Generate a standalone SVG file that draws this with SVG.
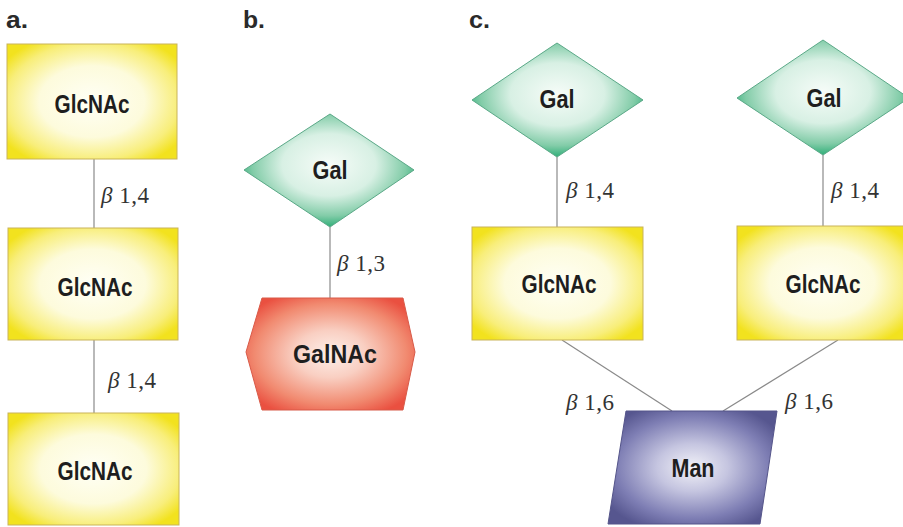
<svg xmlns="http://www.w3.org/2000/svg" width="903" height="527" viewBox="0 0 903 527">
  <style>
    .panel { font-family: "Liberation Sans", Arial, sans-serif; font-weight: bold; font-size: 24px; fill: #2a2a2a; }
    .name { font-family: "Liberation Sans", Arial, sans-serif; font-weight: bold; font-size: 25px; fill: #1e1e1e; text-anchor: middle; }
    .bond { font-family: "Liberation Serif", "Times New Roman", serif; font-size: 23px; fill: #333; letter-spacing: 0.5px; }
    .bond .g { font-style: italic; }
    .link { stroke: #8a8a8a; stroke-width: 1.2; fill: none; }
    .glc { fill: url(#yellow); stroke: #c9b45a; stroke-width: 1; }
    .gal { fill: url(#green); stroke: #5aa887; stroke-width: 1; }
    .galnac { fill: url(#red); stroke: #d85a48; stroke-width: 1; }
    .man { fill: url(#blue); stroke: #55558a; stroke-width: 1; }
  </style>
  <defs>
    <radialGradient id="yellow" cx="0.5" cy="0.5" r="0.62">
      <stop offset="0" stop-color="#fffff6"/>
      <stop offset="0.5" stop-color="#fdfbdc"/>
      <stop offset="0.82" stop-color="#f8ee7a"/>
      <stop offset="1" stop-color="#f2e21e"/>
    </radialGradient>
    <radialGradient id="green" cx="0.5" cy="0.45" r="0.55">
      <stop offset="0" stop-color="#f6fcf8"/>
      <stop offset="0.5" stop-color="#d8f0e4"/>
      <stop offset="0.82" stop-color="#82cca8"/>
      <stop offset="1" stop-color="#2fae78"/>
    </radialGradient>
    <radialGradient id="red" cx="0.5" cy="0.5" r="0.6">
      <stop offset="0" stop-color="#fdf0ea"/>
      <stop offset="0.35" stop-color="#f9cfc2"/>
      <stop offset="0.75" stop-color="#f18a70"/>
      <stop offset="1" stop-color="#ea5040"/>
    </radialGradient>
    <radialGradient id="blue" cx="0.5" cy="0.5" r="0.6">
      <stop offset="0" stop-color="#f2f2f8"/>
      <stop offset="0.35" stop-color="#c5c5e0"/>
      <stop offset="0.75" stop-color="#7e7eb4"/>
      <stop offset="1" stop-color="#56568f"/>
    </radialGradient>
  </defs>

  <rect width="903" height="527" fill="#ffffff"/>

  <!-- panel letters -->
  <text class="panel" x="6" y="28" textLength="22" lengthAdjust="spacingAndGlyphs">a.</text>
  <text class="panel" x="243" y="28" textLength="22" lengthAdjust="spacingAndGlyphs">b.</text>
  <text class="panel" x="469" y="28" textLength="21" lengthAdjust="spacingAndGlyphs">c.</text>

  <!-- glycosidic bonds -->
  <g id="connectors">
    <line class="link" x1="94" y1="159" x2="94" y2="228"/>
    <line class="link" x1="94" y1="340" x2="94" y2="413"/>
    <line class="link" x1="330" y1="227" x2="330" y2="298"/>
    <line class="link" x1="557" y1="157" x2="557" y2="227"/>
    <line class="link" x1="823" y1="155" x2="823" y2="226"/>
    <line class="link" x1="562" y1="340" x2="672" y2="411"/>
    <line class="link" x1="838" y1="340" x2="723" y2="411"/>
    <text class="bond" x="101" y="203"><tspan class="g">β</tspan> 1,4</text>
    <text class="bond" x="108" y="388"><tspan class="g">β</tspan> 1,4</text>
    <text class="bond" x="337" y="271"><tspan class="g">β</tspan> 1,3</text>
    <text class="bond" x="566" y="198"><tspan class="g">β</tspan> 1,4</text>
    <text class="bond" x="831" y="198"><tspan class="g">β</tspan> 1,4</text>
    <text class="bond" x="566" y="410"><tspan class="g">β</tspan> 1,6</text>
    <text class="bond" x="785" y="409"><tspan class="g">β</tspan> 1,6</text>
  </g>

  <!-- a. chitotriose -->
  <g id="a-glcnac-1">
    <rect class="glc" x="7" y="44" width="170" height="115"/>
    <text class="name" x="92" y="113" textLength="75" lengthAdjust="spacingAndGlyphs">GlcNAc</text>
  </g>
  <g id="a-glcnac-2">
    <rect class="glc" x="8" y="228" width="170" height="112"/>
    <text class="name" x="95" y="296" textLength="75" lengthAdjust="spacingAndGlyphs">GlcNAc</text>
  </g>
  <g id="a-glcnac-3">
    <rect class="glc" x="8" y="413" width="171" height="112"/>
    <text class="name" x="95" y="480" textLength="75" lengthAdjust="spacingAndGlyphs">GlcNAc</text>
  </g>

  <!-- b. Gal-GalNAc -->
  <g id="b-gal">
    <polygon class="gal" points="330,114 414,170 330,227 244,170"/>
    <text class="name" x="330" y="179" textLength="35" lengthAdjust="spacingAndGlyphs">Gal</text>
  </g>
  <g id="b-galnac">
    <polygon class="galnac" points="262,298 403,298 415,352 403,410 262,410 246,352"/>
    <text class="name" x="335" y="363" textLength="84" lengthAdjust="spacingAndGlyphs">GalNAc</text>
  </g>

  <!-- c. biantennary branch -->
  <g id="c-gal-left">
    <polygon class="gal" points="557,43 643,100 557,157 472,100"/>
    <text class="name" x="557" y="108" textLength="35" lengthAdjust="spacingAndGlyphs">Gal</text>
  </g>
  <g id="c-gal-right">
    <polygon class="gal" points="823,40 909,98 823,155 737,98"/>
    <text class="name" x="824" y="107" textLength="35" lengthAdjust="spacingAndGlyphs">Gal</text>
  </g>
  <g id="c-glcnac-left">
    <rect class="glc" x="472" y="227" width="171" height="113"/>
    <text class="name" x="559" y="293" textLength="75" lengthAdjust="spacingAndGlyphs">GlcNAc</text>
  </g>
  <g id="c-glcnac-right">
    <rect class="glc" x="737" y="226" width="170" height="114"/>
    <text class="name" x="823" y="293" textLength="75" lengthAdjust="spacingAndGlyphs">GlcNAc</text>
  </g>
  <g id="c-man">
    <polygon class="man" points="626,411 777,411 760,524 608,524"/>
    <text class="name" x="693" y="477" textLength="43" lengthAdjust="spacingAndGlyphs">Man</text>
  </g>
</svg>
